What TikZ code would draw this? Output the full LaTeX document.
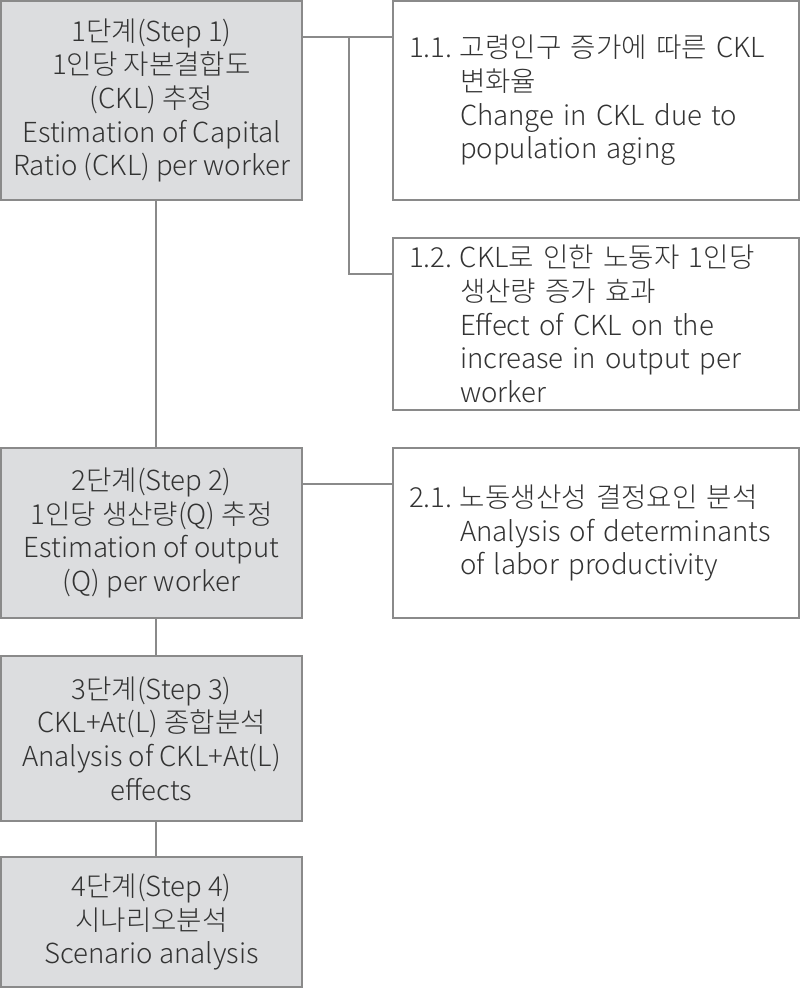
\documentclass[tikz,border=0pt]{standalone}
\usepackage{fontspec}
\setmainfont{Noto Sans CJK KR Light}
\definecolor{boxgray}{HTML}{DCDDDF}
\definecolor{linegray}{HTML}{8A8A8A}
\definecolor{txt}{HTML}{333333}
\begin{document}
\begin{tikzpicture}[x=0.5pt,y=-0.5pt,
  base/.style={draw=linegray, line width=0.75pt, inner sep=0pt, text=txt,
    font=\fontsize{13.8}{16.85}\selectfont},
  stepbox/.style={base, fill=boxgray, minimum width=150.5pt, align=center},
  subbox/.style={base, fill=white, minimum width=203pt, text width=187pt, inner xsep=8pt, align=left},
  conn/.style={draw=linegray, line width=0.75pt}]
\useasboundingbox (0,0) rectangle (800,988);
\newcommand{\lab}[1]{\makebox[25.5pt][l]{#1}}
\newcommand{\ind}{\hspace*{25.5pt}}
% coordinates for connectors
\coordinate (v) at (156,0);
\coordinate (j1) at (349,37);
\coordinate (j2) at (349,274);
\coordinate (j3) at (349,484);
% step boxes
\node[stepbox, minimum height=99.5pt] (s1) at (151.5,100.5)
  {1단계(Step 1)\\1인당 자본결합도\\(CKL) 추정\\Estimation of Capital\\Ratio (CKL) per worker};
\node[stepbox, minimum height=85pt] (s2) at (151.5,533)
  {2단계(Step 2)\\1인당 생산량(Q) 추정\\Estimation of output\\(Q) per worker};
\node[stepbox, minimum height=82.5pt] (s3) at (151.5,738.5)
  {3단계(Step 3)\\CKL+At(L) 종합분석\\Analysis of CKL+At(L)\\effects};
\node[stepbox, minimum height=65pt] (s4) at (151.5,922)
  {4단계(Step 4)\\시나리오분석\\Scenario analysis};
% sub boxes
\node[subbox, minimum height=99.5pt] (r11) at (596,100.5)
  {\lab{1.1.}고령인구 증가에 따른 CKL\\\ind 변화율\\\ind Change in CKL due to\\\ind population aging};
\node[subbox, minimum height=86pt] (r12) at (596,324)
  {\lab{1.2.}CKL로 인한 노동자 1인당\\\ind 생산량 증가 효과\\\ind Effect of CKL on the\\\ind increase in output per\\\ind worker};
\node[subbox, minimum height=85pt] (r21) at (596,533)
  {\lab{2.1.}노동생산성 결정요인 분석\\\ind Analysis of determinants\\\ind of labor productivity};
% connectors
\draw[conn] (s1.east |- j1) -- (r11.west |- j1);
\draw[conn] (j1) -- (j2) -- (r12.west |- j2);
\draw[conn] (s2.east |- j3) -- (r21.west |- j3);
\draw[conn] (s1.south -| v) -- (s2.north -| v);
\draw[conn] (s2.south -| v) -- (s3.north -| v);
\draw[conn] (s3.south -| v) -- (s4.north -| v);
\end{tikzpicture}
\end{document}
